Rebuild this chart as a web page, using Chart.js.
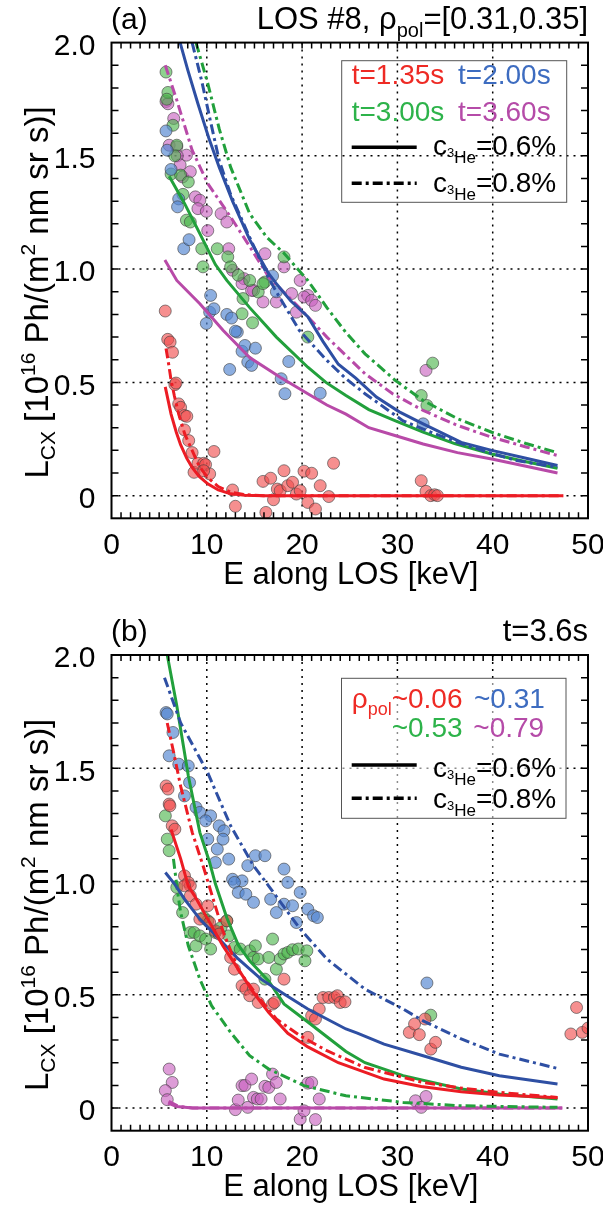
<!DOCTYPE html>
<html>
<head>
<meta charset="utf-8">
<script src="https://cdn.jsdelivr.net/npm/chart.js@4.4.0/dist/chart.umd.min.js"></script>
<style>
html, body { margin:0; padding:0; background:#fff; width:603px; height:1207px; overflow:hidden }
canvas { position:absolute; left:0 }
#ca { top:0 }
#cb { top:612px }
</style>
</head>
<body>
<canvas id="ca" width="603" height="612"></canvas>
<canvas id="cb" width="603" height="595"></canvas>
<script>
/* globals Chart */

// axis ticks
var xTickValues = [0, 10, 20, 30, 40, 50]
var yTickValues = [0, 0.5, 1.0, 1.5, 2.0]
var yTickLabels = ['0', '0.5', '1.0', '1.5', '2.0']

// legend texts
var timesA = ['t=1.35s', 't=2.00s', 't=3.00s', 't=3.60s']
var rhoB = ['~0.06', '~0.31', '~0.53', '~0.79']
var concLabels = ['=0.6%', '=0.8%']

// ---- panel (a): LOS #8, [E keV, L_CX] ----
var aRedSolid = [[5.64,0.48],[6.25,0.36],[6.8,0.28],[7.25,0.225],[7.9,0.165],[8.46,0.125],[9.2,0.085],[10.1,0.052],[11.2,0.025],[12.5,0.008],[14,0.002],[16,0],[20,0],[30,0],[40,0],[47.4,0]]
var aRedDash = [[5.72,0.65],[6.0,0.58],[6.25,0.51],[6.6,0.44],[7.05,0.36],[7.7,0.27],[8.46,0.2],[9.2,0.13],[10.1,0.08],[11.2,0.04],[12.5,0.015],[14,0.004],[16,0],[47.4,0]]
var aBlueSolid = [[7.2,2.0],[8.0,1.88],[9.07,1.73],[10.2,1.58],[11.3,1.45],[12.7,1.30],[14.5,1.13],[16.5,0.98],[17.3,0.936],[18.8,0.86],[20.6,0.79],[22.2,0.68],[23.8,0.58],[25.6,0.52],[27.8,0.435],[30.2,0.37],[32.7,0.317],[36.7,0.235],[39.9,0.2],[43.5,0.165],[46.8,0.133]]
var aBlueDash = [[8.46,2.0],[9.47,1.83],[10.4,1.65],[11.3,1.48],[12.5,1.33],[14.5,1.14],[16.5,0.96],[17.3,0.9],[19.7,0.73],[22.6,0.597],[24.5,0.52],[26.6,0.45],[30.6,0.33],[33.5,0.28],[36.7,0.23],[40,0.185],[42.5,0.155],[46.8,0.125]]
var aGreenSolid = [[6.05,1.41],[7.66,1.29],[9.27,1.157],[10.9,1.02],[12.1,0.95],[14.5,0.83],[17.3,0.70],[20.6,0.567],[22.5,0.5],[24.6,0.442],[27,0.38],[29.8,0.33],[32.7,0.28],[36,0.23],[39.9,0.184],[43.5,0.15],[46.8,0.121]]
var aGreenDash = [[8.87,2.0],[10.1,1.82],[11.3,1.62],[12.5,1.45],[14.5,1.245],[16.3,1.14],[18.1,1.07],[20.6,0.95],[22.6,0.83],[24.6,0.72],[26.6,0.626],[29.8,0.508],[32.7,0.42],[36.3,0.34],[39.9,0.28],[43.5,0.23],[46.8,0.19]]
var aMagSolid = [[5.6,1.04],[6.85,0.95],[9.27,0.847],[11.7,0.73],[14.5,0.61],[17.7,0.523],[20.6,0.45],[22.6,0.40],[24.6,0.36],[27,0.30],[30,0.262],[32.7,0.228],[36.3,0.19],[39.9,0.162],[43.5,0.13],[46.8,0.1]]
var aMagDash = [[5.64,1.90],[6.85,1.746],[8.46,1.525],[10.1,1.378],[12.5,1.23],[14.5,1.10],[16.5,0.965],[19.7,0.83],[22.6,0.70],[26.6,0.538],[29.5,0.45],[32.7,0.376],[36.3,0.31],[39.9,0.258],[43.5,0.215],[46.8,0.177]]

var aRedPts = [[5.64,0.815],[5.9,0.69],[6.15,0.678],[6.4,0.633],[6.65,0.49],[6.77,0.497],[7.05,0.405],[7.25,0.39],[7.66,0.354],[7.9,0.35],[7.66,0.29],[8.1,0.243],[8.46,0.19],[10.75,0.195],[8.66,0.103],[9.07,0.143],[9.67,0.143],[9.87,0.137],[10.3,0.096],[9.67,0.11],[12.7,0.025],[13.0,-0.047],[15.9,0.063],[16.7,0.077],[16.2,-0.074],[17.0,-0.018],[17.4,0.029],[17.7,0.022],[18.1,0.11],[18.5,0.044],[19.0,0.059],[19.4,0.007],[19.8,0.022],[20.2,0.108],[20.6,-0.03],[21.0,0.099],[21.4,-0.059],[21.9,0.044],[22.8,-0.004],[23.3,0.143],[32.5,0.066],[33.0,0.019],[33.5,0.0],[33.9,0.004],[34.2,0.0]]
var aBluePts = [[5.72,1.61],[5.84,1.525],[6.25,1.44],[7.05,1.31],[6.93,1.275],[7.58,1.09],[8.14,1.13],[10.4,0.884],[9.95,0.76],[10.3,0.81],[10.75,0.825],[12.1,0.8],[12.6,0.784],[13.2,0.722],[13.0,0.726],[13.7,0.637],[14.0,0.663],[15.1,0.651],[14.3,0.59],[14.7,0.575],[12.4,0.557],[18.6,0.592],[17.8,0.516],[18.2,0.45],[21.9,0.452],[32.7,0.317],[16.9,0.97],[17.3,0.9]]
var aGreenPts = [[5.72,1.87],[5.92,1.78],[5.8,1.75],[6.45,1.635],[6.85,1.547],[6.25,1.42],[7.25,1.415],[8.06,1.385],[7.86,1.216],[8.27,1.208],[9.47,1.09],[9.6,1.01],[11.1,1.09],[12.2,1.054],[12.5,1.01],[13.3,0.973],[14.5,0.95],[16.1,0.943],[18.1,1.054],[13.7,0.803],[14.8,0.763],[15.4,0.899],[15.9,0.936],[13.8,0.87],[20.6,0.7],[32.5,0.442],[33.1,0.398],[33.7,0.585],[6.65,1.5],[7.5,1.33]]
var aMagPts = [[5.72,1.74],[5.92,1.73],[6.53,1.665],[6.05,1.547],[6.85,1.54],[7.86,1.503],[7.45,1.407],[8.27,1.43],[8.8,1.319],[9.27,1.304],[9.07,1.267],[9.95,1.255],[10.1,1.17],[11.5,1.245],[12.1,1.208],[12.3,1.09],[12.7,0.995],[13.9,0.958],[14.9,0.906],[16.1,1.068],[18.1,1.01],[19.8,0.95],[20.6,0.884],[13.7,0.936],[14.7,0.906],[15.9,0.855],[17.3,0.855],[18.9,0.892],[20.2,0.877],[21.0,0.862],[21.4,0.84],[19.4,0.81],[33.0,0.553],[6.9,1.5],[7.2,1.46]]

// ---- panel (b): t=3.6s ----
var bRedSolid = [[6.25,1.23],[7.26,1.1],[8.06,0.98],[8.67,0.94],[10.1,0.834],[11.7,0.716],[13.3,0.613],[14.9,0.51],[16.5,0.422],[18.5,0.33],[20.6,0.27],[23.8,0.2],[28.6,0.128],[32.5,0.095],[36.7,0.072],[40.7,0.058],[46.8,0.045]]
var bRedDash = [[5.85,1.70],[6.45,1.584],[7.26,1.42],[8.47,1.217],[9.68,1.06],[10.4,0.96],[11.7,0.78],[13.3,0.61],[15.3,0.496],[17.3,0.393],[19.8,0.319],[22.6,0.253],[26.6,0.179],[32.7,0.113],[36.7,0.088],[40.7,0.069],[46.8,0.047]]
var bBlueSolid = [[5.65,1.04],[6.6,0.99],[7.66,0.922],[9.27,0.834],[11.3,0.746],[13.3,0.658],[15.7,0.569],[18.1,0.503],[20.6,0.437],[22.6,0.393],[24.6,0.349],[25.8,0.331],[28.6,0.282],[32.7,0.231],[36.7,0.18],[40.7,0.143],[46.8,0.106]]
var bBlueDash = [[5.56,1.90],[7.26,1.70],[10.1,1.48],[12.5,1.246],[14.9,1.07],[16.5,0.98],[19.8,0.79],[22.6,0.658],[26.6,0.525],[30.6,0.437],[32.7,0.385],[36.7,0.305],[40.7,0.238],[46.8,0.175]]
var bGreenSolid = [[5.85,2.0],[6.85,1.776],[8.06,1.467],[9.27,1.217],[10.3,1.084],[10.9,0.99],[12.1,0.84],[13.3,0.72],[14.5,0.65],[16.5,0.56],[18.1,0.46],[20.6,0.38],[22.6,0.315],[24.6,0.25],[26.6,0.2],[30.6,0.143],[36.7,0.084],[40.7,0.062],[46.8,0.04]]
var bGreenDash = [[6.5,1.1],[6.94,0.952],[7.26,0.863],[8.06,0.716],[9.27,0.569],[10.5,0.452],[12.5,0.334],[14.5,0.231],[16.5,0.172],[20.2,0.099],[24.6,0.054],[30.6,0.025],[36.7,0.01],[46.8,0.003]]
var bMagSolid = [[5.93,0.022],[6.85,0.007],[8.5,0],[20,0],[47.3,0]]
var bMagDash = [[6.0,0.03],[7.0,0.008],[8.5,0],[47.3,0]]

var bRedPts = [[5.73,1.422],[5.93,1.408],[6.05,1.342],[6.13,1.334],[6.37,1.246],[6.65,1.231],[7.66,1.025],[8.06,0.996],[8.27,0.981],[7.66,0.981],[8.27,0.937],[8.87,0.9],[10.1,0.893],[9.27,0.834],[10.3,0.819],[10.9,0.782],[11.3,0.768],[12.1,0.826],[12.5,0.665],[12.9,0.613],[13.7,0.54],[14.1,0.525],[14.9,0.525],[14.5,0.496],[15.4,0.466],[16.9,0.459],[17.1,0.466],[18.1,0.569],[20.6,0.312],[21.0,0.407],[21.4,0.393],[21.8,0.437],[22.2,0.488],[22.8,0.488],[23.4,0.488],[23.7,0.496],[24.0,0.466],[24.5,0.469],[31.25,0.334],[31.8,0.371],[32.3,0.324],[32.9,0.393],[33.5,0.26],[34.0,0.29],[48.2,0.327],[48.8,0.444],[49.4,0.334],[50,0.353]]
var bBluePts = [[5.73,1.746],[5.85,1.74],[6.45,1.658],[6.05,1.555],[7.06,1.518],[8.06,1.51],[8.19,1.437],[7.66,1.378],[8.87,1.327],[9.27,1.305],[10.4,1.29],[9.88,1.268],[11.3,1.246],[11.8,1.224],[10.1,1.187],[11.1,1.143],[11.7,1.187],[10.9,1.084],[12.3,1.099],[14.3,1.07],[15.1,1.114],[16.1,1.114],[18.1,1.055],[18.5,0.996],[19.8,0.952],[12.7,1.01],[13.7,1.003],[12.9,0.996],[13.3,0.952],[14.1,0.944],[14.9,0.908],[16.7,0.922],[17.3,0.863],[18.1,0.9],[19.0,0.893],[19.4,0.819],[20.6,0.878],[21.2,0.849],[21.6,0.841],[33.1,0.552]]
var bGreenPts = [[5.65,1.29],[5.85,1.187],[6.05,1.136],[6.85,0.974],[7.06,0.922],[7.46,0.863],[8.27,0.775],[8.67,0.775],[8.87,0.716],[9.27,0.76],[9.88,0.746],[10.1,0.827],[10.4,0.702],[10.9,0.775],[11.5,0.797],[12.1,0.827],[12.3,0.76],[12.9,0.709],[13.5,0.702],[14.5,0.694],[14.9,0.665],[15.1,0.716],[15.4,0.658],[16.5,0.665],[16.9,0.746],[17.3,0.613],[17.7,0.658],[18.1,0.68],[18.5,0.687],[19.0,0.699],[19.6,0.702],[20.5,0.694],[20.3,0.65],[16.1,0.569],[33.5,0.41],[9.68,0.841]]
var bMagPts = [[6.05,0.172],[6.37,0.113],[5.65,0.077],[5.85,0.037],[13.0,-0.007],[13.3,0.035],[14.3,0.003],[13.7,0.099],[14.0,0.1],[14.7,0.128],[14.9,0.047],[15.3,0.04],[15.7,0.04],[16.1,0.096],[16.5,0.091],[16.9,0.15],[17.3,0.113],[17.7,0.04],[19.8,-0.049],[20.2,-0.012],[20.6,0.11],[21.0,0.113],[21.4,-0.051],[21.8,0.04],[31.9,0.032],[32.5,0.003],[33.0,0.051]]

var FONT = '"Liberation Sans", Arial, Helvetica, sans-serif'
var RED = '#ec1c24', BLUE = '#2e4fa3', GREEN = '#22a03c', MAG = '#b84aa8'
var RED_T = '#ee2a24', BLUE_T = '#3d6cc0', GREEN_T = '#2db34a', MAG_T = '#b54ba8'
var DASHDOT = [10, 4, 3, 4]

function font(px){ return px + 'px ' + FONT }

function drawRich(ctx, parts, x, y, align){
  var w = 0
  parts.forEach(function(p){ ctx.font = font(p.size); w += ctx.measureText(p.t).width })
  if(align == 'right') x -= w
  if(align == 'center') x -= w / 2
  parts.forEach(function(p){
    ctx.font = font(p.size)
    ctx.fillStyle = p.color || '#000'
    ctx.fillText(p.t, x, y + (p.dy || 0))
    x += ctx.measureText(p.t).width
  })
}

function lineSet(pts, color, dashed){
  return {
    data: pts.map(function(p){ return {x: p[0], y: p[1]} }),
    showLine: true, borderColor: color, borderWidth: 3, pointRadius: 0,
    borderDash: dashed ? DASHDOT : [], fill: false, order: 0
  }
}

function dotSet(pts, fill){
  return {
    data: pts.map(function(p){ return {x: p[0], y: p[1]} }),
    showLine: false, pointRadius: 6, backgroundColor: fill,
    borderColor: 'rgba(60,60,60,0.6)', borderWidth: 1, order: 1
  }
}

var framePlugin = {
  id: 'frame',
  beforeDatasetsDraw: function(chart, args, o){
    var ctx = chart.ctx, a = chart.chartArea
    var xs = chart.scales.x, ys = chart.scales.y
    ctx.save()
    ctx.strokeStyle = '#000'
    ctx.lineWidth = 1.5
    ctx.setLineDash([2, 5])
    ctx.beginPath()
    xTickValues.slice(1, -1).forEach(function(v){
      var px = xs.getPixelForValue(v)
      ctx.moveTo(px, a.top); ctx.lineTo(px, a.bottom)
    })
    yTickValues.slice(0, -1).forEach(function(v){
      var py = ys.getPixelForValue(v)
      ctx.moveTo(a.left, py); ctx.lineTo(a.right, py)
    })
    ctx.stroke()
    ctx.restore()
  },
  afterDraw: function(chart, args, o){
    var ctx = chart.ctx, a = chart.chartArea
    var xs = chart.scales.x, ys = chart.scales.y
    ctx.save()

    // inward ticks on all sides
    ctx.strokeStyle = '#000'
    ctx.lineWidth = 1.5
    ctx.beginPath()
    for(var v = 1; v < 50; v++){
      var px = xs.getPixelForValue(v)
      ctx.moveTo(px, a.bottom); ctx.lineTo(px, a.bottom - 6)
      ctx.moveTo(px, a.top); ctx.lineTo(px, a.top + 6)
    }
    for(var i = 0; i < 20; i++){
      var py = ys.getPixelForValue(i / 10)
      ctx.moveTo(a.left, py); ctx.lineTo(a.left + 7, py)
      ctx.moveTo(a.right, py); ctx.lineTo(a.right - 7, py)
    }
    ctx.stroke()
    ctx.lineWidth = 2
    ctx.strokeRect(a.left, a.top, a.right - a.left, a.bottom - a.top)

    // legend box
    var b = o.box
    if(o.boxFill){ ctx.fillStyle = o.boxFill; ctx.fillRect(b[0], b[1], b[2] - b[0], b[3] - b[1]) }
    ctx.strokeStyle = '#555'
    ctx.lineWidth = 1
    ctx.strokeRect(b[0], b[1], b[2] - b[0], b[3] - b[1])
    ctx.textBaseline = 'alphabetic'
    ctx.textAlign = 'left'
    o.rows.forEach(function(r){ drawRich(ctx, r.parts, r.x, r.y, 'left') })

    // line-style samples
    ctx.strokeStyle = '#000'
    ctx.lineWidth = 3.5
    ctx.beginPath(); ctx.moveTo(351.7, o.lineY[0]); ctx.lineTo(416.7, o.lineY[0]); ctx.stroke()
    ctx.setLineDash(DASHDOT)
    ctx.beginPath(); ctx.moveTo(351.7, o.lineY[1]); ctx.lineTo(416.7, o.lineY[1]); ctx.stroke()
    ctx.setLineDash([])
    for(var k = 0; k < 2; k++){
      drawRich(ctx, [{t:'c', size:28}, {t:'3', size:13, dy:2}, {t:'He', size:17, dy:8}, {t:concLabels[k], size:28}], 433, o.textY[k], 'left')
    }

    // titles
    drawRich(ctx, [{t:o.letter, size:30}], 111, 29, 'left')
    drawRich(ctx, o.right, 588, 29, 'right')
    drawRich(ctx, [{t:'E along LOS [keV]', size:31}], (a.left + a.right) / 2 + 1, 584, 'center')

    ctx.translate(48, (a.top + a.bottom) / 2 + 12)
    ctx.rotate(-Math.PI / 2)
    drawRich(ctx, [
      {t:'L', size:33}, {t:'CX', size:21, dy:7}, {t:' [10', size:33}, {t:'16', size:21, dy:-13},
      {t:' Ph/(m', size:33}, {t:'2', size:21, dy:-13}, {t:' nm sr s)]', size:33}
    ], 0, 0, 'center')
    ctx.restore()
  }
}

function makeChart(id, height, top, datasets, frameOpts){
  var bottom = height - (top + 475.7)
  return new Chart(document.getElementById(id), {
    type: 'scatter',
    data: { datasets: datasets },
    options: {
      responsive: false,
      animation: false,
      layout: { padding: { top: top, right: 15, left: 0, bottom: 0 } },
      plugins: { legend: { display: false }, tooltip: { enabled: false }, frame: frameOpts },
      scales: {
        x: {
          type: 'linear', min: 0, max: 50,
          afterBuildTicks: function(s){ s.ticks = xTickValues.map(function(v){ return {value: v} }) },
          afterFit: function(s){ s.height = bottom; s.paddingLeft = 0; s.paddingRight = 0 },
          grid: { display: false }, border: { display: false },
          ticks: { color: '#000', font: { family: FONT, size: 30 }, padding: 1, autoSkip: false, maxRotation: 0,
            callback: function(v){ return String(v) } }
        },
        y: {
          type: 'linear', min: -0.1, max: 2.0,
          afterBuildTicks: function(s){ s.ticks = yTickValues.map(function(v){ return {value: v} }) },
          afterFit: function(s){ s.width = 111.5; s.paddingTop = 0; s.paddingBottom = 0 },
          grid: { display: false }, border: { display: false },
          ticks: { color: '#000', font: { family: FONT, size: 30 }, padding: 8, autoSkip: false, labelOffset: 4,
            callback: function(v){ return yTickLabels[yTickValues.indexOf(v)] } }
        }
      }
    },
    plugins: [framePlugin]
  })
}

var ptRed = 'rgba(240,75,75,0.62)', ptBlue = 'rgba(85,135,210,0.68)', ptGreen = 'rgba(75,180,75,0.62)', ptMag = 'rgba(200,95,190,0.62)'

makeChart('ca', 612, 42.6, [
  lineSet(aRedSolid, RED, false), lineSet(aRedDash, RED, true),
  lineSet(aBlueSolid, BLUE, false), lineSet(aBlueDash, BLUE, true),
  lineSet(aGreenSolid, GREEN, false), lineSet(aGreenDash, GREEN, true),
  lineSet(aMagSolid, MAG, false), lineSet(aMagDash, MAG, true),
  dotSet(aRedPts, ptRed), dotSet(aBluePts, ptBlue), dotSet(aGreenPts, ptGreen), dotSet(aMagPts, ptMag)
], {
  letter: '(a)',
  right: [{t:'LOS #8, ρ', size:31}, {t:'pol', size:20, dy:8}, {t:'=[0.31,0.35]', size:31}],
  box: [341.7, 60.7, 566.7, 202.3], boxFill: null,
  rows: [
    {x:351.7, y:84, parts:[{t:timesA[0], size:28, color:RED_T}]},
    {x:458, y:84, parts:[{t:timesA[1], size:28, color:BLUE_T}]},
    {x:351.7, y:120.7, parts:[{t:timesA[2], size:28, color:GREEN_T}]},
    {x:458, y:120.7, parts:[{t:timesA[3], size:28, color:MAG_T}]}
  ],
  lineY: [147.3, 183.3], textY: [155, 191.7]
})

makeChart('cb', 595, 43, [
  lineSet(bRedSolid, RED, false), lineSet(bRedDash, RED, true),
  lineSet(bBlueSolid, BLUE, false), lineSet(bBlueDash, BLUE, true),
  lineSet(bGreenSolid, GREEN, false), lineSet(bGreenDash, GREEN, true),
  lineSet(bMagSolid, MAG, false), lineSet(bMagDash, MAG, true),
  dotSet(bRedPts, ptRed), dotSet(bBluePts, ptBlue), dotSet(bGreenPts, ptGreen), dotSet(bMagPts, ptMag)
], {
  letter: '(b)',
  right: [{t:'t=3.6s', size:31}],
  box: [341.5, 66.3, 566, 206.3], boxFill: 'rgba(255,255,255,0.55)',
  rows: [
    {x:351.7, y:96, parts:[{t:'ρ', size:28, color:RED_T}, {t:'pol', size:18, dy:7, color:RED_T}, {t:rhoB[0], size:28, color:RED_T}]},
    {x:474, y:96, parts:[{t:rhoB[1], size:28, color:BLUE_T}]},
    {x:391.7, y:124.7, parts:[{t:rhoB[2], size:28, color:GREEN_T}]},
    {x:473.3, y:124.7, parts:[{t:rhoB[3], size:28, color:MAG_T}]}
  ],
  lineY: [153, 186.3], textY: [164.7, 196]
})
</script>
</body>
</html>
